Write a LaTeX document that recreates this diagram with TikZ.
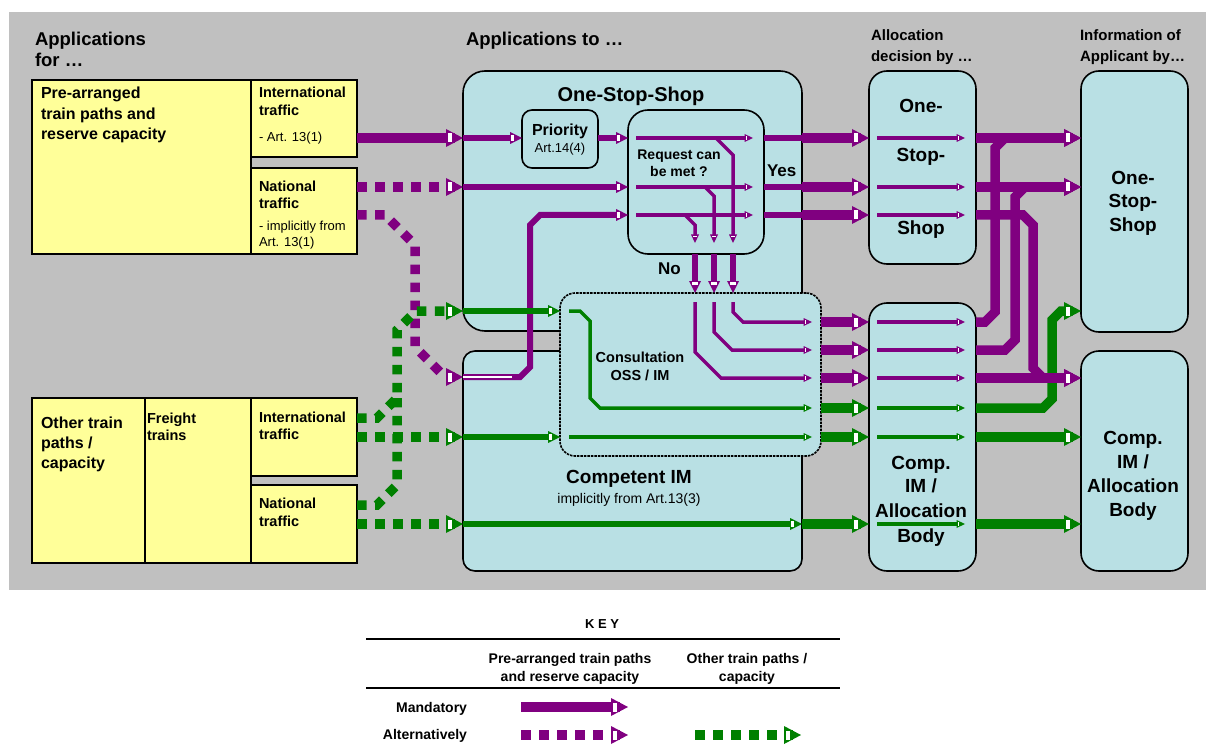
\documentclass[tikz,border=0pt]{standalone}
\usepackage{fontspec}
\setmainfont{Liberation Sans}
\usetikzlibrary{arrows.meta,calc}
\definecolor{pu}{RGB}{128,0,128}
\definecolor{gr}{RGB}{0,128,0}
\definecolor{lb}{RGB}{185,224,228}
\definecolor{yl}{RGB}{255,255,153}
\definecolor{bgc}{RGB}{192,192,192}
\newcommand{\fsz}[1]{\fontsize{#1}{#1}\selectfont}
\pgfdeclarearrow{
  name = Hd,
  parameters = {\the\pgfarrowlength,\the\pgfarrowwidth},
  setup code = {
    \pgfarrowssettipend{\pgfarrowlength}
    \pgfarrowssetlineend{.5\pgfarrowlength}
    \pgfarrowssavethe\pgfarrowlength
    \pgfarrowssavethe\pgfarrowwidth
    \pgfarrowsupperhullpoint{\pgfarrowlength}{0pt}
    \pgfarrowsupperhullpoint{0pt}{.5\pgfarrowwidth}
  },
  drawing code = {
    \pgfpathmoveto{\pgfqpoint{\pgfarrowlength}{0pt}}
    \pgfpathlineto{\pgfqpoint{0pt}{.5\pgfarrowwidth}}
    \pgfpathlineto{\pgfqpoint{0pt}{-.5\pgfarrowwidth}}
    \pgfpathclose
    \pgfusepathqfill
    \pgfsetfillcolor{white}
    \pgfpathrectangle{\pgfqpoint{.12\pgfarrowlength}{-.25\pgfarrowwidth}}{\pgfqpoint{.22\pgfarrowlength}{.5\pgfarrowwidth}}
    \pgfusepathqfill
  },
  defaults = {length=17pt, width=18pt}
}
\tikzset{
  bx/.style={draw=black, line width=1.6pt, fill=lb, rectangle, inner sep=0pt, outer sep=0pt, anchor=north west},
  yb/.style={draw=black, line width=2pt, fill=yl, rectangle, inner sep=0pt, outer sep=0pt, anchor=north west},
  cP/.style={color=pu}, cG/.style={color=gr},
  arB/.style={line width=9.5pt, -{Hd[length=17pt,width=18pt]}},
  arM/.style={line width=6pt, -{Hd[length=12pt,width=12pt]}},
  arS/.style={line width=3.5pt, -{Hd[length=8.5pt,width=8pt]}},
  lnM/.style={line width=6pt},
  dsh/.style={dash pattern=on 9.5pt off 8.5pt},
  tx/.style={inner sep=0pt, outer sep=0pt, anchor=base},
  txl/.style={inner sep=0pt, outer sep=0pt, anchor=base west},
  txr/.style={inner sep=0pt, outer sep=0pt, anchor=base east},
  hb/.style={font=\bfseries\fsz{19}},
}
\begin{document}
\begin{tikzpicture}[x=1pt,y=-1pt]
\useasboundingbox (0,0) rectangle (1206,751);
\fill[bgc] (9,12) rectangle (1206,590);

% rows
\coordinate (r1) at (0,138); \coordinate (r2) at (0,187); \coordinate (r3) at (0,215);
\coordinate (rp) at (0,377); \coordinate (ga) at (0,311);
\coordinate (c1) at (0,322); \coordinate (c2) at (0,350); \coordinate (c3) at (0,378);
\coordinate (c4) at (0,408); \coordinate (c5) at (0,437); \coordinate (c6) at (0,524);
\coordinate (gs1) at (0,418); \coordinate (gs3) at (0,505);
\coordinate (v1) at (695,0); \coordinate (v2) at (714,0); \coordinate (v3) at (733,0);

% yellow boxes
\node[yb, minimum width=219pt, minimum height=174pt] (yPre) at (32,80) {};
\node[yb, minimum width=106pt, minimum height=77pt] (yPreInt) at (251,80) {};
\node[yb, minimum width=106pt, minimum height=86pt] (yPreNat) at (251,168) {};
\node[yb, minimum width=113pt, minimum height=165pt] (yOth) at (32,398) {};
\node[yb, minimum width=106pt, minimum height=165pt] (yFre) at (145,398) {};
\node[yb, minimum width=106pt, minimum height=78pt] (yOthInt) at (251,398) {};
\node[yb, minimum width=106pt, minimum height=78pt] (yOthNat) at (251,485) {};

% blue boxes
\node[bx, rounded corners=22pt, minimum width=339pt, minimum height=260pt] (oss) at (463,71) {};
\node[bx, rounded corners=12pt, minimum width=339pt, minimum height=220pt] (cim) at (463,351) {};
\node[bx, rounded corners=15pt, minimum width=261pt, minimum height=163pt, dash pattern=on 2.5pt off 1pt] (cons) at (560,293) {};
\node[bx, rounded corners=10pt, minimum width=76pt, minimum height=58pt] (pri) at (522,110) {};
\node[bx, rounded corners=20pt, minimum width=136pt, minimum height=144pt] (req) at (628,110) {};
\node[bx, rounded corners=18pt, minimum width=107pt, minimum height=193pt] (allocO) at (869,71) {};
\node[bx, rounded corners=18pt, minimum width=107pt, minimum height=268pt] (allocC) at (869,303) {};
\node[bx, rounded corners=18pt, minimum width=107pt, minimum height=261pt] (infoO) at (1081,71) {};
\node[bx, rounded corners=18pt, minimum width=107pt, minimum height=220pt] (infoC) at (1081,351) {};

% ---------------- purple connectors ----------------
% row 1
\draw[cP,arB] (yPreInt.east |- r1) -- (oss.west |- r1);
\draw[cP,arM] (oss.west |- r1) -- (pri.west |- r1);
\draw[cP,arM] (pri.east |- r1) -- (req.west |- r1);
% row 2
\draw[cP,arB,dsh] (yPreNat.east |- r2) -- (oss.west |- r2);
\draw[cP,arM] (oss.west |- r2) -- (req.west |- r2);
% row 3 (national, via competent IM)
\draw[cP,arB,dsh] (yPreNat.east |- r3) -- (385,215) -- (415,245) -- (415,347) -- (445,377) -- (cim.west |- rp);
\draw[cP,arM] (cim.west |- rp) -- (520,377) -- (530,367) -- (530,225) -- (540,215) -- (req.west |- r3);
\draw[white, line width=2pt] (cim.west |- rp) -- (512,377);
% inside request box
\foreach \r in {r1,r2,r3}{
  \draw[cP,arS] ($(req.west |- \r)+(8,0)$) -- ($(req.east |- \r)+(-11,0)$);
  \draw[cP,lnM] (req.east |- \r) -- (oss.east |- \r);
  \draw[cP,arB] (oss.east |- \r) -- (allocO.west |- \r);
  \draw[cP,arS] ($(allocO.west |- \r)+(8,0)$) -- ($(allocO.east |- \r)+(-11,0)$);
}
\draw[cP,arS] (716,138) -- (733,155) -- ($(req.south -| v3)+(0,-11)$);
\draw[cP,arS] (705,187) -- (714,196) -- ($(req.south -| v2)+(0,-11)$);
\draw[cP,arS] (685,215) -- (695,225) -- ($(req.south -| v1)+(0,-11)$);
% request -> consultation
\draw[cP,arM] (req.south -| v1) -- (cons.north -| v1);
\draw[cP,arM] (req.south -| v2) -- (cons.north -| v2);
\draw[cP,arM] (req.south -| v3) -- (cons.north -| v3);
% inside consultation
\draw[cP,arS] ($(cons.north -| v3)+(0,9)$) -- (733,312) -- (743,322) -- ($(cons.east |- c1)+(-9,0)$);
\draw[cP,arS] ($(cons.north -| v2)+(0,9)$) -- (714,332) -- (732,350) -- ($(cons.east |- c2)+(-9,0)$);
\draw[cP,arS] ($(cons.north -| v1)+(0,9)$) -- (695,352) -- (721,378) -- ($(cons.east |- c3)+(-9,0)$);

% ---------------- green connectors ----------------
\draw[cG,arB,dsh] (yOthInt.east |- gs1) -- (377,418) -- (397,398) -- (397,330) -- (416,311) -- (oss.west |- ga);
\draw[cG,line width=9.5pt,dsh] (yOthNat.east |- gs3) -- (377,505) -- (397,485) -- (397,398);
\draw[cG,arB,dsh] (yOthInt.east |- c5) -- (cim.west |- c5);
\draw[cG,arB,dsh] (yOthNat.east |- c6) -- (cim.west |- c6);
\draw[cG,arM] (oss.west |- ga) -- (cons.west |- ga);
\draw[cG,arS] ($(cons.west |- ga)+(9,0)$) -- (580,311) -- (590,321) -- (590,398) -- (600,408) -- ($(cons.east |- c4)+(-9,0)$);
\draw[cG,arM] (cim.west |- c5) -- (cons.west |- c5);
\draw[cG,arS] ($(cons.west |- c5)+(9,0)$) -- ($(cons.east |- c5)+(-9,0)$);
\draw[cG,arM] (cim.west |- c6) -- (cim.east |- c6);
\draw[cG,arB] (cim.east |- c6) -- (allocC.west |- c6);

% consultation -> allocation (comp IM)
\draw[cP,arB] (cons.east |- c1) -- (allocC.west |- c1);
\draw[cP,arB] (cons.east |- c2) -- (allocC.west |- c2);
\draw[cP,arB] (cons.east |- c3) -- (allocC.west |- c3);
\draw[cG,arB] (cons.east |- c4) -- (allocC.west |- c4);
\draw[cG,arB] (cons.east |- c5) -- (allocC.west |- c5);
\foreach \r/\c in {c1/cP,c2/cP,c3/cP,c4/cG,c5/cG,c6/cG}{
  \draw[\c,arS] ($(allocC.west |- \r)+(8,0)$) -- ($(allocC.east |- \r)+(-11,0)$);
}

% allocation -> information
\draw[cG,arB] (allocC.east |- c4) -- (1043,408) -- (1052,399) -- (1052,320) -- (1061,311) -- (infoO.west |- ga);
\draw[cP,arB] (allocO.east |- r1) -- (infoO.west |- r1);
\draw[cP,arB] (allocO.east |- r2) -- (infoO.west |- r2);
\draw[cP,arB] (allocC.east |- c1) -- (985,322) -- (995,312) -- (995,148) -- (1005,138) -- (infoO.west |- r1);
\draw[cP,arB] (allocC.east |- c2) -- (1005,350) -- (1015,340) -- (1015,197) -- (1025,187) -- (infoO.west |- r2);
\draw[cP,arB] (allocO.east |- r3) -- (1023,215) -- (1033,225) -- (1033,368) -- (1043,378) -- (infoC.west |- c3);
\draw[cP,arB] (allocC.east |- c3) -- (infoC.west |- c3);
\draw[cG,arB] (allocC.east |- c5) -- (infoC.west |- c5);
\draw[cG,arB] (allocC.east |- c6) -- (infoC.west |- c6);

% ---------------- texts ----------------
\begin{scope}[font=\bfseries\fsz{18.5}]
\node[txl] (h1a) at (35,46) {Applications};
\node[txl] (h1b) at (35,67) {for …};
\node[txl] (h2) at (466,46) {Applications to …};
\end{scope}
\begin{scope}[font=\bfseries\fsz{15}]
\node[txl] (h3a) at (871,41) {Allocation};
\node[txl] (h3b) at (871,62) {decision by …};
\node[txl] (h4a) at (1080,41) {Information of};
\node[txl] (h4b) at (1080,62) {Applicant by…};
\end{scope}
\begin{scope}[font=\bfseries\fsz{16}]
\node[txl] (p1) at (41,99) {Pre-arranged};
\node[txl] (p2) at (41,120) {train paths and};
\node[txl] (p3) at (41,140) {reserve capacity};
\node[txl] (o1) at (41,428) {Other train};
\node[txl] (o2) at (41,448) {paths /};
\node[txl] (o3) at (41,468) {capacity};
\end{scope}
\begin{scope}[font=\bfseries\fsz{14.5}]
\node[txl] (i1) at (259,98) {International};
\node[txl] (i2) at (259,116) {traffic};
\node[txl] (n1) at (259,192) {National};
\node[txl] (n2) at (259,209) {traffic};
\node[txl] (f1) at (147,423) {Freight};
\node[txl] (f2) at (147,440) {trains};
\node[txl] (i3) at (259,422) {International};
\node[txl] (i4) at (259,439) {traffic};
\node[txl] (n3) at (259,508) {National};
\node[txl] (n4) at (259,526) {traffic};
\end{scope}
\begin{scope}[font=\fsz{13}]
\node[txl] (a1) at (259,142) {- Art. 13(1)};
\node[txl] (a2) at (259,230) {- implicitly from};
\node[txl] (a3) at (259,247) {Art. 13(1)};
\end{scope}
\node[tx, font=\bfseries\fsz{20}] (tOSS) at (631,102) {One-Stop-Shop};
\node[tx, font=\bfseries\fsz{16}] (tPri) at (560,136) {Priority};
\node[tx, font=\fsz{13}] (tArt) at (560,153) {Art.14(4)};
\node[tx, font=\bfseries\fsz{14}] (tRq1) at (679,160) {Request can};
\node[tx, font=\bfseries\fsz{14}] (tRq2) at (679,177) {be met ?};
\node[txl, font=\bfseries\fsz{17}] (tYes) at (767,177) {Yes};
\node[txl, font=\bfseries\fsz{17}] (tNo) at (658,274) {No};
\node[tx, font=\bfseries\fsz{14.5}] (tC1) at (640,362) {Consultation};
\node[tx, font=\bfseries\fsz{14.5}] (tC2) at (640,380) {OSS / IM};
\node[tx, font=\bfseries\fsz{19}] (tCIM) at (629,483) {Competent IM};
\node[tx, font=\fsz{14}] (tCIM2) at (629,503) {implicitly from Art.13(3)};
\begin{scope}[hb]
\node[tx] (ao1) at (921,113) {One-};
\node[tx] (ao2) at (921,162) {Stop-};
\node[tx] (ao3) at (921,235) {Shop};
\node[tx] (ac1) at (921,469) {Comp.};
\node[tx] (ac2) at (921,492) {IM /};
\node[tx] (ac3) at (921,517) {Allocation};
\node[tx] (ac4) at (921,542) {Body};
\node[tx] (io1) at (1133,185) {One-};
\node[tx] (io2) at (1133,208) {Stop-};
\node[tx] (io3) at (1133,232) {Shop};
\node[tx] (ic1) at (1133,444) {Comp.};
\node[tx] (ic2) at (1133,468) {IM /};
\node[tx] (ic3) at (1133,492) {Allocation};
\node[tx] (ic4) at (1133,516) {Body};
\end{scope}

% ---------------- key ----------------
\node[tx, font=\bfseries\fsz{13}] (kKey) at (602,628) {K E Y};
\draw[black, line width=2pt] (366,639) -- (840,639);
\draw[black, line width=2pt] (366,688) -- (840,688);
\begin{scope}[font=\bfseries\fsz{14}]
\node[tx] (kh1) at (570,663) {Pre-arranged train paths};
\node[tx] (kh2) at (570,681) {and reserve capacity};
\node[tx] (kh3) at (747,663) {Other train paths /};
\node[tx] (kh4) at (747,681) {capacity};
\node[txr] (kM) at (467,712) {Mandatory};
\node[txr] (kA) at (467,739) {Alternatively};
\end{scope}
\coordinate (km1) at (521,707); \coordinate (km2) at (628,707);
\coordinate (ka1) at (521,735); \coordinate (ka2) at (628,735);
\coordinate (kg1) at (695,735); \coordinate (kg2) at (801,735);
\draw[cP,arB] (km1) -- (km2);
\draw[cP,arB,dsh] (ka1) -- (ka2);
\draw[cG,arB,dsh] (kg1) -- (kg2);
\end{tikzpicture}
\end{document}
